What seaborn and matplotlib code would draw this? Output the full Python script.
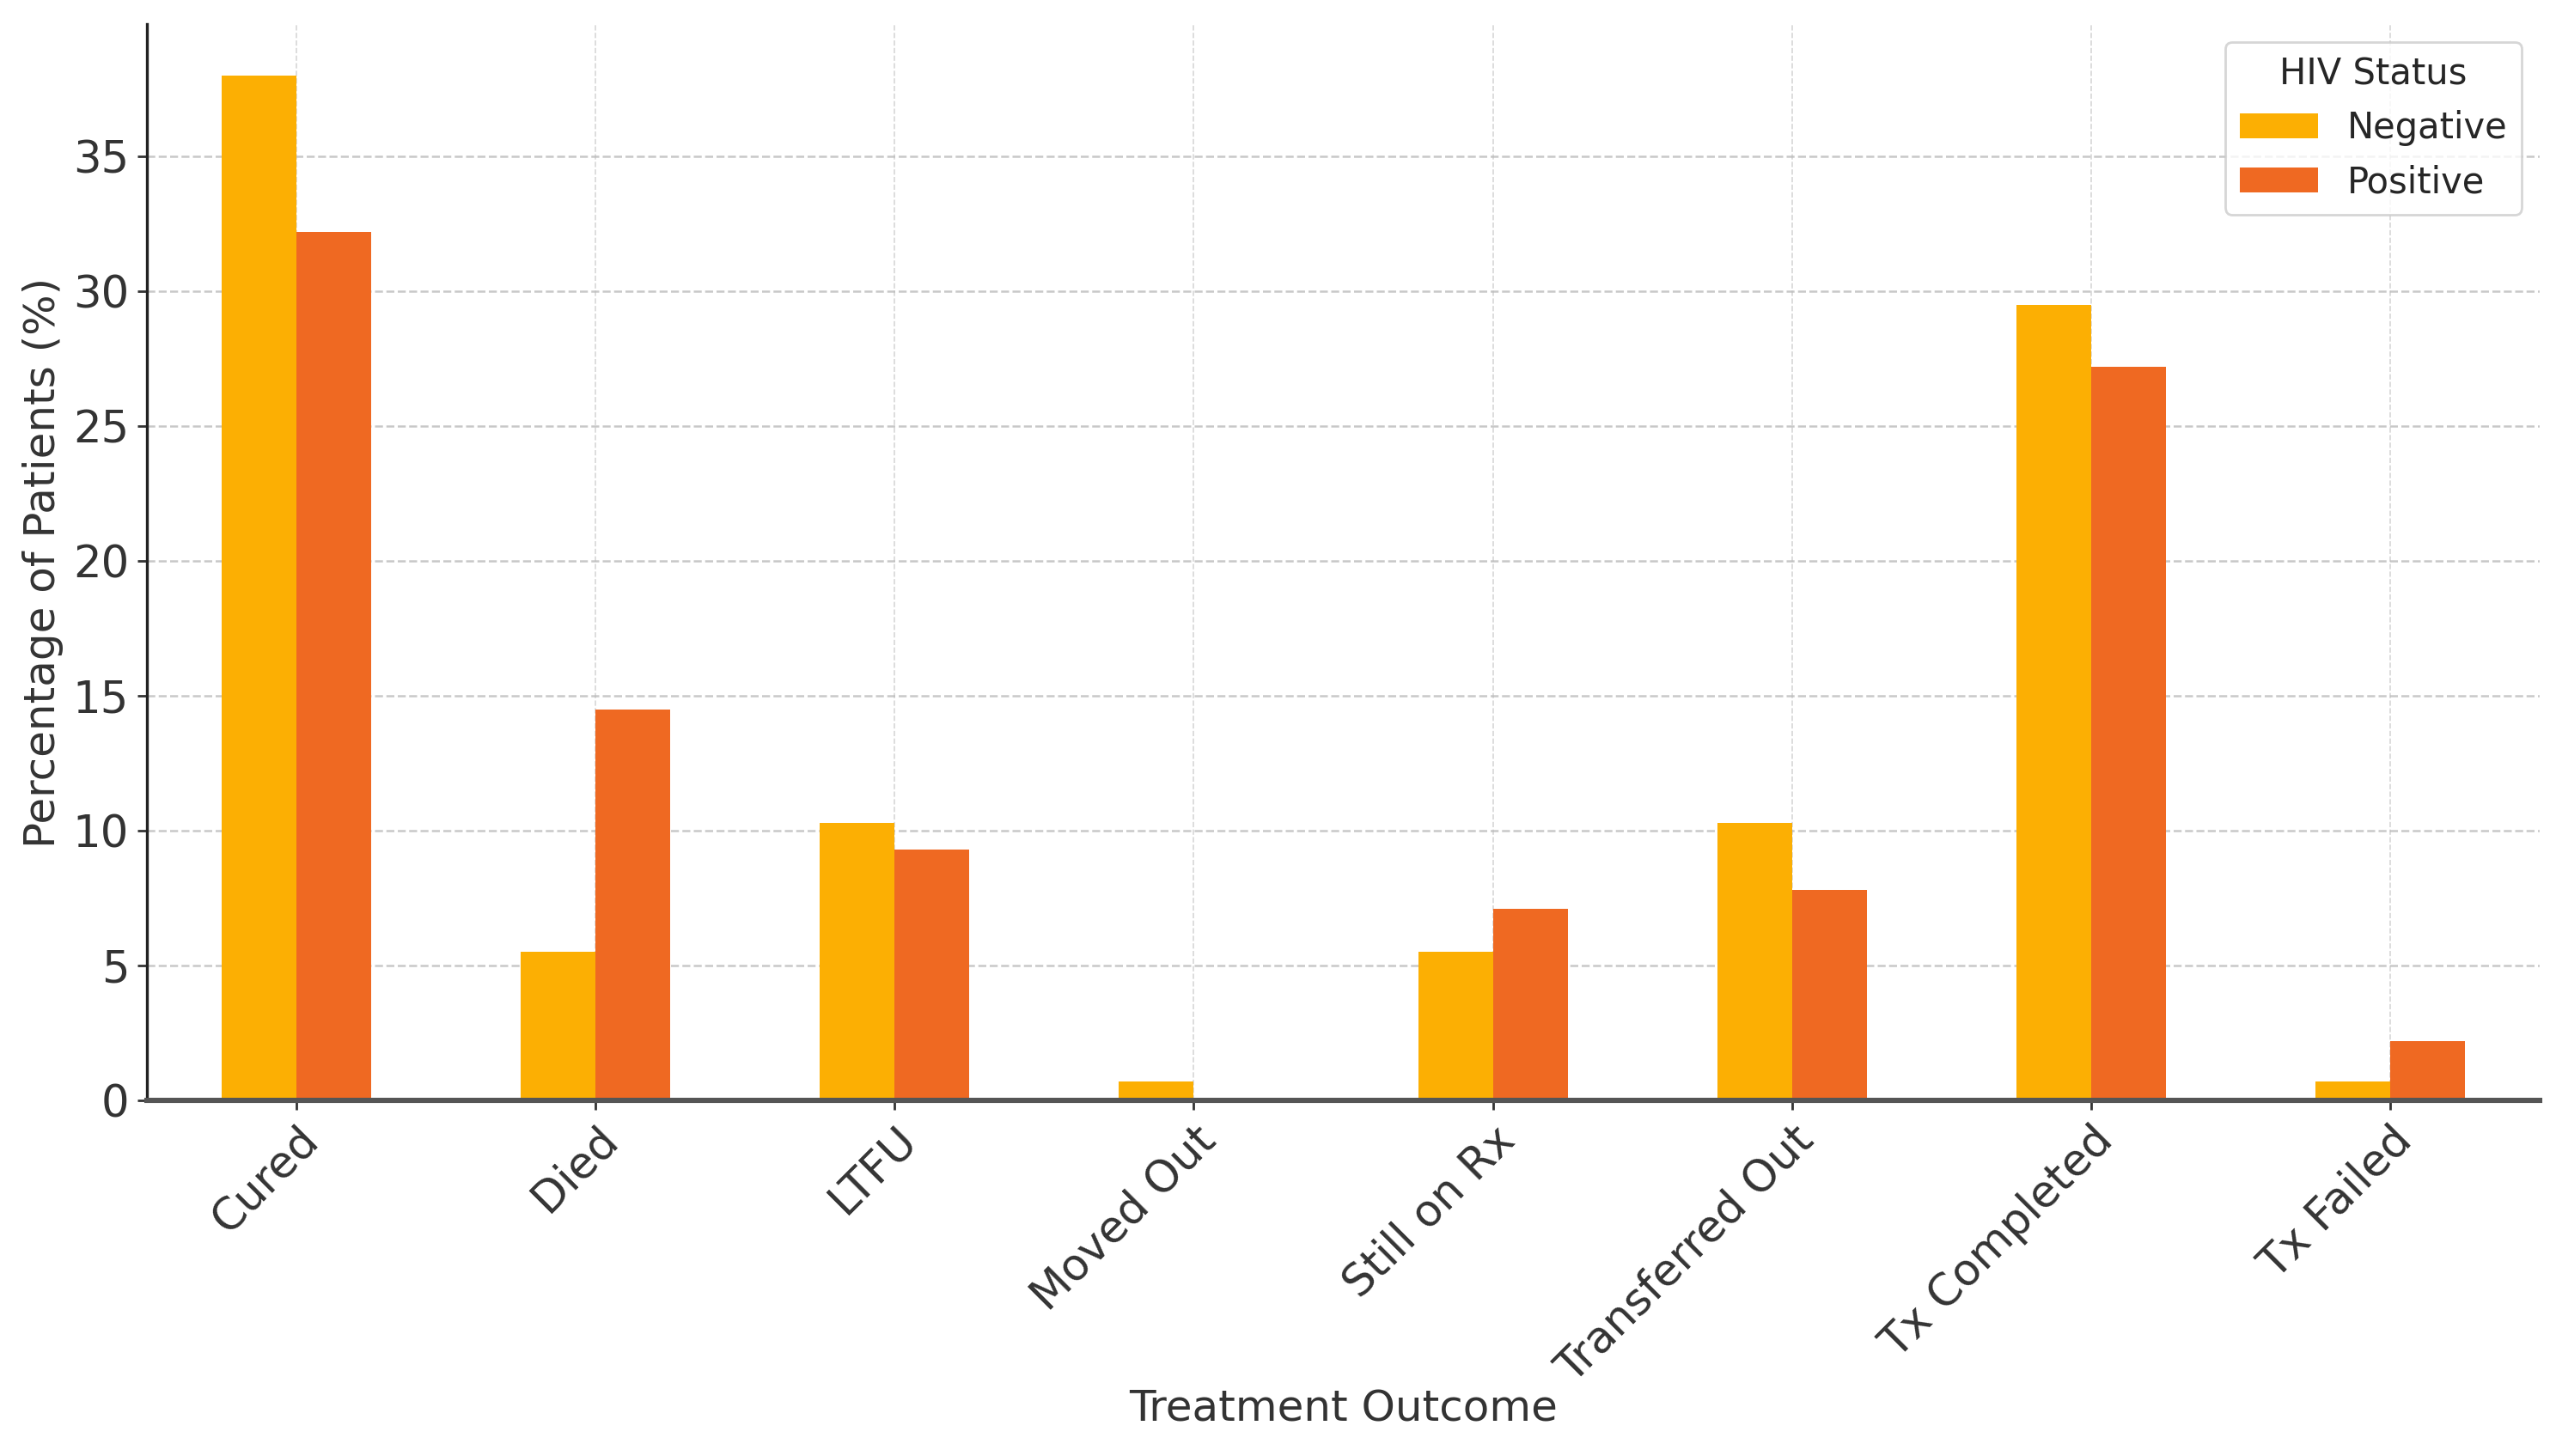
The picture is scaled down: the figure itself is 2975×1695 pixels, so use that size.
import pandas as pd
import matplotlib
matplotlib.use("Agg")
import matplotlib.pyplot as plt
import seaborn as sns

# Données (% de patients)
outcomes = ["Cured", "Died", "LTFU", "Moved Out", "Still on Rx",
            "Transferred Out", "Tx Completed", "Tx Failed"]
negative = [38.0, 5.5, 10.3, 0.7, 5.5, 10.3, 29.5, 0.7]
positive = [32.2, 14.5, 9.3, 0.0, 7.1, 7.8, 27.2, 2.2]

df = pd.DataFrame({
    "Treatment Outcome": outcomes * 2,
    "Percentage": negative + positive,
    "HIV Status": ["Negative"] * len(outcomes) + ["Positive"] * len(outcomes),
})

sns.set_style("white")
plt.rcParams["font.family"] = ["DejaVu Sans"]

fig, ax = plt.subplots(figsize=(14.875, 8.475), dpi=200)
fig.subplots_adjust(left=0.0575, right=0.9936, top=0.9835, bottom=0.2442)

sns.barplot(data=df, x="Treatment Outcome", y="Percentage", hue="HIV Status",
            palette={"Negative": "#FCAF03", "Positive": "#EF6922"},
            width=0.5, saturation=1, linewidth=0, ax=ax)

ax.set_xlim(-0.5, len(outcomes) - 0.5)
ax.set_ylim(0, 39.9)
ax.set_yticks([0, 5, 10, 15, 20, 25, 30, 35])

# Grille pointillée
ax.grid(True, axis="y", linestyle="--", color="#bbbbbb", linewidth=0.9, alpha=0.8)
ax.grid(True, axis="x", linestyle="--", color="#cccccc", linewidth=0.6, alpha=0.8)
ax.set_axisbelow(True)

sns.despine(ax=ax)
ax.spines["left"].set_color("#222222")
ax.spines["left"].set_linewidth(1.2)
ax.spines["bottom"].set_color("#555555")
ax.spines["bottom"].set_linewidth(2.2)
ax.tick_params(axis="both", which="both", bottom=True, left=True,
               length=4, width=1, color="#333333", labelsize=18.5, labelcolor="#333333")
plt.setp(ax.get_xticklabels(), rotation=45, ha="right", rotation_mode="anchor")

ax.set_xlabel("Treatment Outcome", fontsize=18, color="#333333")
ax.xaxis.set_label_coords(0.5, -0.268)
ax.set_ylabel("Percentage of Patients (%)", fontsize=18, color="#333333", labelpad=4)

leg = ax.legend(title="HIV Status", loc="upper right", fontsize=15, title_fontsize=15,
                frameon=True, fancybox=True, handlelength=2.2)
leg.get_frame().set_edgecolor("#cccccc")

plt.savefig("out.png", dpi=200)
